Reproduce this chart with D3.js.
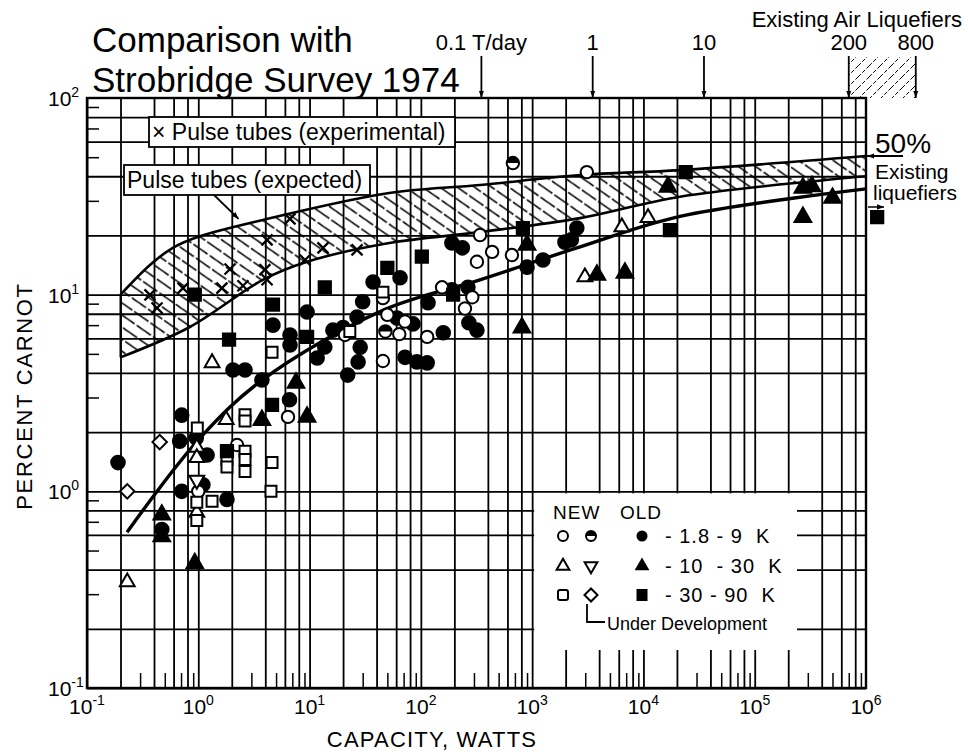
<!DOCTYPE html>
<html><head><meta charset="utf-8">
<script src="https://cdn.jsdelivr.net/npm/d3@7"></script>
<style>
body{margin:0;background:#fff;}
svg{display:block;font-family:"Liberation Sans",Arial,sans-serif;}
</style></head><body>
<svg id="c" width="968" height="755"></svg>
<script>
// ---------------- DATA ----------------
const xTickExponents = [-1, 0, 1, 2, 3, 4, 5, 6];
const yTickExponents = [-1, 0, 1, 2];
const gridMultipliers = [1, 2, 4, 6, 8];
const minorMultipliers = [3, 5, 7, 9];

// NEW 1.8-9 K (open circle)
const newLow = [[1.0,1.0],[2.23,1.72],[6.4,2.39],[20.8,6.24],[45.6,4.6],[45.6,9.6],[50,7.9],[72,7.3],[64,6.3],[114,6.1],[155,10.9],[290,9.7],[249,8.5],[319,14.7],[340,20.1],[437,16.5],[658,15.9],[3100,42]];
// Under development 1.8-9 K (half filled circle)
const devLow = [[48,6.5],[671,46.7]];
// OLD 1.8-9 K (filled circle)
const oldLow = [[0.19,1.4],[0.71,2.44],[0.68,1.8],[0.71,1.0],[0.96,1.87],[1.2,1.53],[1.1,1.08],[1.81,0.91],[0.47,0.64],[3.73,3.68],[6.6,2.92],[22,3.9],[2.05,4.14],[2.63,4.14],[4.69,7.0],[6.67,6.24],[6.67,5.55],[9.5,8.17],[13.7,5.42],[11.7,4.76],[16.2,6.6],[20,6.8],[26.7,7.7],[28.5,5.4],[27.3,4.55],[37.2,11.6],[30,9.2],[61,7.6],[65,12.2],[85,7.1],[116,9.1],[190,10.6],[265,10.9],[270,7.2],[319,6.6],[159,6.4],[72,4.8],[92,4.55],[114,4.5],[190,18.3],[236,17.3],[900,13.8],[1250,15.0],[1970,18.5],[2250,19],[2520,21.8]];
// NEW 10-30 K (open triangle)
const newMid = [[0.23,0.346],[1.33,4.5],[0.97,1.67],[0.97,1.48],[0.97,0.78],[1.78,2.31],[2980,12.3],[6400,22.1],[11000,24.6]];
// Under development 10-30 K (open triangle down)
const devMid = [[0.97,1.14]];
// OLD 10-30 K (filled triangle)
const oldMid = [[0.47,0.76],[0.47,0.59],[0.93,0.43],[3.73,2.30],[7.55,3.56],[9.5,2.39],[810,6.8],[900,17.9],[3820,12.6],[6820,12.9],[16600,35.3],[271000,34.9],[327000,35.5],[500000,31],[271000,24.8]];
// NEW 30-90 K (open square)
const newHigh = [[0.98,2.1],[0.97,0.88],[1.33,0.89],[0.97,0.71],[2.63,2.45],[2.63,2.28],[1.81,1.45],[1.81,1.33],[2.63,1.6],[2.63,1.45],[2.63,1.26],[4.6,1.40],[4.5,1.0],[4.6,5.1],[23,6.5],[45.6,10.3]];
// Under development 30-90 K (open diamond)
const devHigh = [[0.45,1.78],[0.23,1.0]];
// OLD 30-90 K (filled square)
const oldHigh = [[0.93,10.0],[13.7,10.9],[4.69,8.9],[1.89,5.9],[1.81,1.6],[9.5,6.1],[50,13.7],[102,15.6],[195,10.0],[826,21.8],[17300,21.3],[24000,42],[4.6,2.75],[1.26e6,24.8]];
// Pulse tubes (experimental)
const pulseExp = [[0.368,9.97],[0.426,8.55],[0.729,10.8],[1.63,10.8],[1.93,13.5],[2.52,11.1],[3.97,13.4],[4.15,11.9],[4.15,19.0],[6.67,24.3],[9.1,15.0],[13.2,17.3],[26.7,16.9]];
// Pulse tubes (expected) band
const bandUpper = [[0.2,10],[0.37,14.2],[0.59,17.3],[1,19.7],[3.8,24],[52,32.9],[340,36.1],[2700,40.6],[21300,43],[1e6,50.7]];
const bandLower = [[0.2,4.8],[0.84,6.85],[3.8,11.9],[9.5,14.7],[52,18.3],[340,20.8],[2700,24.5],[21300,31.5],[1e6,40]];
// Strobridge trend curve
const trendCurve = [[0.229,0.62],[1.04,1.87],[3.8,3.7],[45,8.3],[340,11.9],[2700,17.5],[21300,25],[1e6,34.5]];
// Air liquefier sizes (tons/day) and their capacity in watts
const tonLabels = ["0.1 T/day", "1", "10", "200", "800"];
const tonWatts = [350, 3500, 35000, 700000, 2800000];

// ---------------- LAYOUT ----------------
const svg = d3.select("#c");
const L = 87, R = 866, T = 98, B = 688;
const x = d3.scaleLog().domain([0.1, 1e6]).range([L, R]);
const y = d3.scaleLog().domain([0.1, 100]).range([B, T]);

const decX = xTickExponents.slice(0, -1).map(e => Math.pow(10, e));
const decY = yTickExponents.slice(0, -1).map(e => Math.pow(10, e));
const xGrid = decX.flatMap(d => gridMultipliers.map(m => +(m * d).toPrecision(6)));
const xMinor = decX.flatMap(d => minorMultipliers.map(m => +(m * d).toPrecision(6)));
const yGrid = decY.flatMap(d => gridMultipliers.map(m => +(m * d).toPrecision(6)));
const yMinor = decY.flatMap(d => minorMultipliers.map(m => +(m * d).toPrecision(6)));

const defs = svg.append("defs");
defs.append("pattern").attr("id","hatchBand").attr("patternUnits","userSpaceOnUse")
  .attr("width",14).attr("height",14).attr("patternTransform","rotate(-10)")
  .append("path").attr("d","M0,0 L14,14 M-4,10 L4,18 M10,-4 L18,4")
  .attr("stroke","#000").attr("stroke-width",1.5).attr("stroke-dasharray","9,2.5");
defs.append("pattern").attr("id","hatchTop").attr("patternUnits","userSpaceOnUse")
  .attr("width",11).attr("height",11)
  .append("path").attr("d","M0,11 L11,0 M-3,3 L3,-3 M8,14 L14,8")
  .attr("stroke","#000").attr("stroke-width",1).attr("stroke-dasharray","4,2");
defs.append("marker").attr("id","arr").attr("viewBox","0 0 10 10").attr("refX",10).attr("refY",5)
  .attr("markerWidth",7).attr("markerHeight",9).attr("markerUnits","userSpaceOnUse").attr("orient","auto")
  .append("path").attr("d","M0,1 L10,5 L0,9 Z").attr("fill","#000");
defs.append("marker").attr("id","arrS").attr("viewBox","0 0 10 10").attr("refX",10).attr("refY",5)
  .attr("markerWidth",14).attr("markerHeight",7).attr("markerUnits","userSpaceOnUse").attr("orient","auto")
  .append("path").attr("d","M0,1.5 L10,5 L0,8.5 Z").attr("fill","#000");

// ---------------- GRID via axes ----------------
const gridStroke = g => g.selectAll("line").attr("stroke","#000").attr("stroke-width",1.8);
svg.append("g").attr("transform",`translate(0,${T})`)
  .call(d3.axisBottom(x).tickValues(xGrid).tickSize(B - T).tickFormat(""))
  .call(g => g.select(".domain").remove()).call(gridStroke);
svg.append("g").attr("transform",`translate(0,${B})`)
  .call(d3.axisTop(x).tickValues(xMinor).tickSize(15).tickFormat(""))
  .call(g => g.select(".domain").remove()).call(g => g.selectAll("line").attr("stroke","#000").attr("stroke-width",1.5));
svg.append("g").attr("transform",`translate(${L},0)`)
  .call(d3.axisRight(y).tickValues(yGrid).tickSize(R - L).tickFormat(""))
  .call(g => g.select(".domain").remove()).call(gridStroke);
svg.append("g").attr("transform",`translate(${L},0)`)
  .call(d3.axisRight(y).tickValues(yMinor).tickSize(12).tickFormat(""))
  .call(g => g.select(".domain").remove()).call(g => g.selectAll("line").attr("stroke","#000").attr("stroke-width",1.5));
svg.append("rect").attr("x",L).attr("y",T).attr("width",R-L).attr("height",B-T)
  .attr("fill","none").attr("stroke","#000").attr("stroke-width",2.4);

// legend background (covers grid)
svg.append("rect").attr("x",x(1000)+2).attr("y",y(1)+2).attr("width",797-x(1000)-2).attr("height",650-y(1)-2).attr("fill","#fff");

// ---------------- Band ----------------
const lineGen = d3.line().x(d => x(d[0])).y(d => y(d[1])).curve(d3.curveCatmullRom.alpha(0.5));
const upPath = lineGen(bandUpper);
const lowRev = lineGen(bandLower.slice().reverse());
const bandPath = upPath + "L" + lowRev.slice(1) + "Z";
svg.append("path").attr("d",bandPath).attr("fill","url(#hatchBand)").attr("stroke","none");
svg.append("path").attr("d",upPath).attr("fill","none").attr("stroke","#000").attr("stroke-width",2.6);
svg.append("path").attr("d",lineGen(bandLower)).attr("fill","none").attr("stroke","#000").attr("stroke-width",2.6);
svg.append("line").attr("x1",x(bandUpper[0][0])).attr("x2",x(bandLower[0][0]))
  .attr("y1",y(bandUpper[0][1])).attr("y2",y(bandLower[0][1])).attr("stroke","#000").attr("stroke-width",2);
svg.append("path").attr("d",lineGen(trendCurve)).attr("fill","none").attr("stroke","#000").attr("stroke-width",3.4);

// ---------------- label boxes ----------------
function boxLabel(x0, y0, w, h, txt, tx, ty) {
  svg.append("rect").attr("x",x0).attr("y",y0).attr("width",w).attr("height",h)
    .attr("fill","#fff").attr("stroke","#000").attr("stroke-width",1.8);
  svg.append("text").attr("x",tx).attr("y",ty).attr("font-size",23).text(txt);
}
boxLabel(149,117,306,30,"× Pulse tubes (experimental)",152,140);
boxLabel(124,165,246,30,"Pulse tubes (expected)",127,188);
svg.append("line").attr("x1",214).attr("y1",195).attr("x2",x(2.3)).attr("y2",y(24.3))
  .attr("stroke","#000").attr("stroke-width",1.8).attr("marker-end","url(#arr)");

// ---------------- markers ----------------
const pts = svg.append("g");
function circ(data, mode) {
  const g = pts.selectAll(null).data(data).enter().append("g")
    .attr("transform", d => `translate(${x(d[0])},${y(d[1])})`);
  g.append("circle").attr("r", mode === "filled" ? 6.8 : 6.2)
    .attr("fill", mode === "filled" ? "#000" : "#fff").attr("stroke","#000").attr("stroke-width",2);
  if (mode === "half") g.append("path").attr("d","M-6.2,0 A6.2,6.2 0 0 1 6.2,0 Z").attr("fill","#000");
}
function sym(data, type, size, filled, rot) {
  pts.selectAll(null).data(data).enter().append("path")
    .attr("d", d3.symbol().type(type).size(size)())
    .attr("transform", d => `translate(${x(d[0])},${y(d[1])}) rotate(${rot||0})`)
    .attr("fill", filled ? "#000" : "#fff").attr("stroke","#000").attr("stroke-width",2).attr("stroke-linejoin","miter");
}
circ(oldLow, "filled");
circ(newLow, "open");
circ(devLow, "half");
sym(newMid, d3.symbolTriangle, 95, false, 0);
sym(devMid, d3.symbolTriangle, 95, false, 180);
sym(oldMid, d3.symbolTriangle, 120, true, 0);
sym(newHigh, d3.symbolSquare, 120, false, 0);
sym(devHigh, d3.symbolSquare, 105, false, 45);
sym(oldHigh, d3.symbolSquare, 150, true, 0);
pts.selectAll(null).data(pulseExp).enter().append("path")
  .attr("d","M-5.5,-5.5 L5.5,5.5 M-5.5,5.5 L5.5,-5.5")
  .attr("transform", d => `translate(${x(d[0])},${y(d[1])})`)
  .attr("stroke","#000").attr("stroke-width",2.3).attr("fill","none");

// ---------------- axis tick labels ----------------
const tl = svg.append("g").attr("font-family","'Liberation Sans Narrow','Liberation Sans',Arial,sans-serif");
xTickExponents.forEach(e => {
  const t = tl.append("text").attr("x", x(Math.pow(10,e))).attr("y", 714).attr("text-anchor","middle").attr("font-size",21);
  t.append("tspan").text("10");
  t.append("tspan").attr("font-size",14).attr("dy",-9).text(e);
});
yTickExponents.forEach(e => {
  const t = tl.append("text").attr("x", 48).attr("y", y(Math.pow(10,e)) + 8).attr("font-size",21);
  t.append("tspan").text("10");
  t.append("tspan").attr("font-size",14).attr("dy",-9).text(e);
});
svg.append("text").attr("x",432).attr("y",747).attr("text-anchor","middle").attr("font-size",22)
  .attr("letter-spacing",1.2).text("CAPACITY, WATTS");
svg.append("text").attr("transform",`translate(32,${396}) rotate(-90)`).attr("text-anchor","middle")
  .attr("font-size",22).attr("letter-spacing",1.7).text("PERCENT CARNOT");

// ---------------- title ----------------
svg.append("text").attr("x",92).attr("y",52).attr("font-size",35).text("Comparison with");
svg.append("text").attr("x",92).attr("y",92).attr("font-size",35).text("Strobridge Survey 1974");

// ---------------- top annotations ----------------
svg.append("path").attr("d",`M${x(tonWatts[3])},57 L${x(tonWatts[4])},57 L${x(tonWatts[4])},${T} L${x(tonWatts[3])},${T} Z`)
  .attr("fill","url(#hatchTop)");
tonWatts.forEach((w,i) => {
  svg.append("line").attr("x1",x(w)).attr("x2",x(w)).attr("y1",56).attr("y2",T)
    .attr("stroke","#000").attr("stroke-width",1.8).attr("marker-end","url(#arrS)");
  svg.append("text").attr("x",x(w)).attr("y",50).attr("text-anchor","middle").attr("font-size",22).text(tonLabels[i]);
});
svg.append("text").attr("x",962).attr("y",27).attr("text-anchor","end").attr("font-size",22).text("Existing Air Liquefiers");
svg.append("text").attr("x",875).attr("y",153).attr("font-size",28).text("50%");
svg.append("line").attr("x1",903).attr("y1",y(50.7)).attr("x2",R+1).attr("y2",y(50.7))
  .attr("stroke","#000").attr("stroke-width",1.8).attr("marker-end","url(#arrS)");
svg.append("text").attr("x",875).attr("y",179).attr("font-size",21).text("Existing");
svg.append("text").attr("x",873).attr("y",200).attr("font-size",21).text("liquefiers");
svg.append("line").attr("x1",868).attr("y1",207).attr("x2",884).attr("y2",207)
  .attr("stroke","#000").attr("stroke-width",1.5).attr("marker-end","url(#arr)");

// ---------------- legend ----------------
const lg = svg.append("g").attr("font-family","'Liberation Sans Narrow','Liberation Sans',Arial,sans-serif");
lg.append("text").attr("x",553).attr("y",519).attr("font-size",19).attr("letter-spacing",1).text("NEW");
lg.append("text").attr("x",620).attr("y",519).attr("font-size",19).attr("letter-spacing",1).text("OLD");
const lx = [563, 591, 642], ly = [536, 566, 595];
const lrow = ["- 1.8 - 9  K", "- 10  - 30  K", "- 30 - 90  K"];
lg.append("circle").attr("cx",lx[0]).attr("cy",ly[0]).attr("r",5).attr("fill","#fff").attr("stroke","#000").attr("stroke-width",2);
lg.append("circle").attr("cx",lx[1]).attr("cy",ly[0]).attr("r",5).attr("fill","#fff").attr("stroke","#000").attr("stroke-width",2);
lg.append("path").attr("d",`M${lx[1]-5},${ly[0]} A5,5 0 0 1 ${lx[1]+5},${ly[0]} Z`).attr("fill","#000");
lg.append("circle").attr("cx",lx[2]).attr("cy",ly[0]).attr("r",5.5).attr("fill","#000");
const tri = d3.symbol().type(d3.symbolTriangle).size(70)();
lg.append("path").attr("d",tri).attr("transform",`translate(${lx[0]},${ly[1]})`).attr("fill","#fff").attr("stroke","#000").attr("stroke-width",2);
lg.append("path").attr("d",tri).attr("transform",`translate(${lx[1]},${ly[1]}) rotate(180)`).attr("fill","#fff").attr("stroke","#000").attr("stroke-width",2);
lg.append("path").attr("d",d3.symbol().type(d3.symbolTriangle).size(95)()).attr("transform",`translate(${lx[2]},${ly[1]})`).attr("fill","#000");
lg.append("rect").attr("x",lx[0]-5).attr("y",ly[2]-5).attr("width",10).attr("height",10).attr("rx",2).attr("fill","#fff").attr("stroke","#000").attr("stroke-width",2);
lg.append("path").attr("d",d3.symbol().type(d3.symbolSquare).size(85)()).attr("transform",`translate(${lx[1]},${ly[2]}) rotate(45)`).attr("fill","#fff").attr("stroke","#000").attr("stroke-width",2);
lg.append("rect").attr("x",lx[2]-5.5).attr("y",ly[2]-6).attr("width",11).attr("height",12).attr("fill","#000");
lrow.forEach((t,i) => lg.append("text").attr("x",665).attr("y",ly[i]+7).attr("font-size",20)
  .attr("letter-spacing",1).style("white-space","pre").text(t));
lg.append("path").attr("d",`M${lx[1]-4},${ly[2]+9} L${lx[1]-4},${ly[2]+27} L${lx[1]+14},${ly[2]+27}`)
  .attr("fill","none").attr("stroke","#000").attr("stroke-width",1.8);
lg.append("text").attr("x",607).attr("y",630).attr("font-size",18).text("Under Development");
</script>
</body></html>
